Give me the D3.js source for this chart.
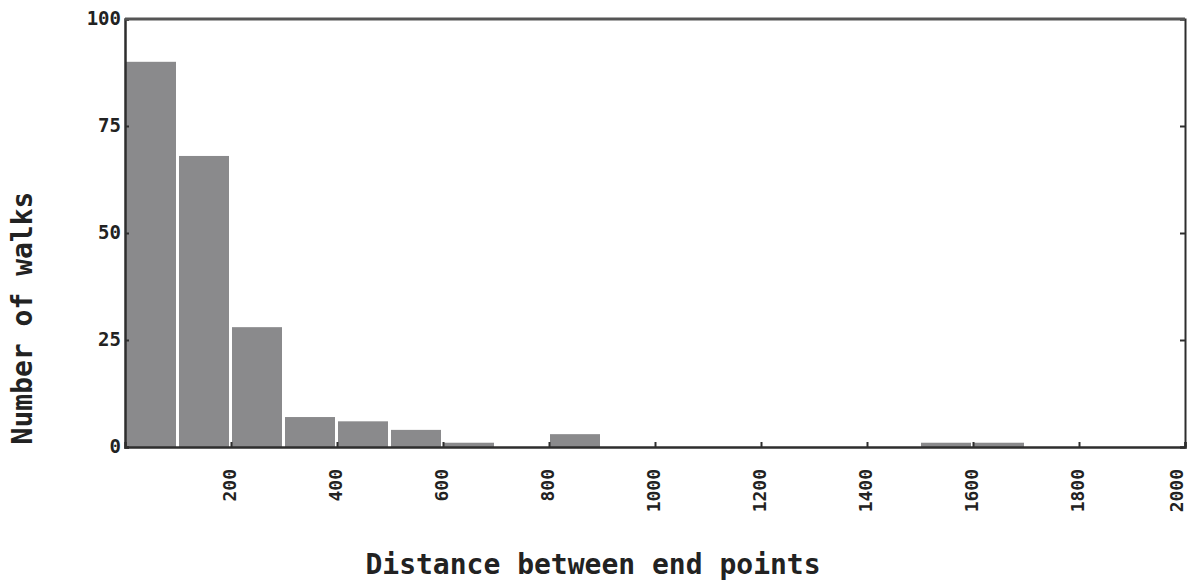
<!DOCTYPE html>
<html>
<head>
<meta charset="utf-8">
<script src="https://cdn.jsdelivr.net/npm/d3@7"></script>
<style>
    body { margin: 0; background: #fff; }
    text { font-family: "DejaVu Sans Mono", "Liberation Mono", monospace; font-weight: bold; fill: #222; }
</style>
</head>
<body>
<svg id="chart" width="1191" height="581"></svg>
<script>
// histogram bins (lower edge of each 100-wide bin) and counts
const binStarts = [0, 100, 200, 300, 400, 500, 600, 700, 800, 900, 1000, 1100, 1200, 1300, 1400, 1500, 1600, 1700, 1800, 1900];
const counts    = [90, 68, 28, 7, 6, 4, 1, 0, 3, 0, 0, 0, 0, 0, 0, 1, 1, 0, 0, 0];
const binWidth = 100;
const xTicks = [200, 400, 600, 800, 1000, 1200, 1400, 1600, 1800, 2000];
const yTicks = [0, 25, 50, 75, 100];

const svg = d3.select("#chart");
const margin = {left: 125, right: 6, top: 19, bottom: 134};
const width = 1191, height = 581;

let x = d3.scaleLinear().domain([0, 2000]).range([margin.left, width - margin.right]);
let y = d3.scaleLinear().domain([0, 100]).range([height - margin.bottom, margin.top]);

//bars
svg.append("g").selectAll("rect")
    .data(binStarts)
    .enter()
    .append("rect")
    .attr("x", function (d) { return x(d) + 1; })
    .attr("width", function (d) { return x(d + binWidth) - x(d) - 3; })
    .attr("y", function (d, i) { return y(counts[i]); })
    .attr("height", function (d, i) { return y(0) - y(counts[i]); })
    .attr("fill", "#8a8a8c");

//axes
let xAxis = svg.append("g")
    .attr("transform", "translate(0," + y(0) + ")")
    .call(d3.axisTop(x).tickValues(xTicks).tickSize(5).tickFormat(""));
xAxis.select(".domain").attr("stroke", "#2e2e2e").attr("stroke-width", 2.5);
xAxis.selectAll(".tick line").attr("stroke", "#2e2e2e").attr("stroke-width", 2);

svg.append("g").selectAll("text")
    .data(xTicks)
    .enter()
    .append("text")
    .attr("transform", function (d) {
        // keep the last label inside the page
        let tx = Math.min(x(d) + 5, width - 8);
        return "translate(" + tx + "," + (y(0) + 22) + ") rotate(-90)";
    })
    .attr("text-anchor", "end")
    .style("font-size", "18px")
    .text(function (d) { return d; });

let yAxis = svg.append("g")
    .attr("transform", "translate(" + margin.left + ",0)")
    .call(d3.axisRight(y).tickValues(yTicks).tickSize(4).tickFormat(""));
yAxis.select(".domain").attr("stroke", "#2e2e2e").attr("stroke-width", 2.5);
yAxis.selectAll(".tick line").attr("stroke", "#2e2e2e").attr("stroke-width", 2);

svg.append("g").selectAll("text")
    .data(yTicks)
    .enter()
    .append("text")
    .attr("x", margin.left - 4)
    .attr("y", function (d) { return y(d) + 6; })
    .attr("text-anchor", "end")
    .style("font-size", "19px")
    .text(function (d) { return d; });

let rightAxis = svg.append("g")
    .attr("transform", "translate(" + (width - margin.right) + ",0)")
    .call(d3.axisLeft(y).tickValues(yTicks).tickSize(5).tickFormat(""));
rightAxis.select(".domain").attr("stroke", "#2e2e2e").attr("stroke-width", 2);
rightAxis.selectAll(".tick line").attr("stroke", "#2e2e2e").attr("stroke-width", 2);

svg.append("line")
    .attr("x1", margin.left).attr("x2", width - margin.right)
    .attr("y1", y(100)).attr("y2", y(100))
    .attr("stroke", "#555").attr("stroke-width", 3);

//labels
svg.append("text")
    .attr("x", 593)
    .attr("y", 574)
    .attr("text-anchor", "middle")
    .style("font-size", "28px")
    .text("Distance between end points");

svg.append("text")
    .attr("transform", "translate(32," + 318 + ") rotate(-90)")
    .attr("text-anchor", "middle")
    .style("font-size", "28px")
    .text("Number of walks");
</script>
</body>
</html>
